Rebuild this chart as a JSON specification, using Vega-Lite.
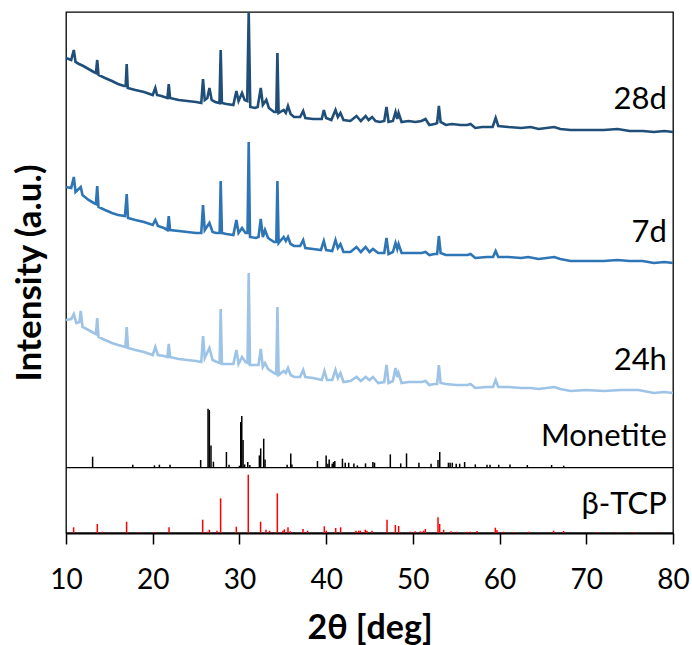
{
"$schema": "https://vega.github.io/schema/vega-lite/v6.json",
"width": 607, "height": 521,
"autosize": {"type": "none"},
"padding": {"left": 66, "top": 12, "right": 19, "bottom": 112},
"config": {"view": {"stroke": "black", "strokeWidth": 1.3}, "font": "Lato"},
"datasets": {
"d28": [
{"t":10.0,"v":475},{"t":10.6,"v":473},{"t":10.9,"v":483},{"t":11.1,"v":471},{"t":11.5,"v":469},{"t":12.0,"v":467},{"t":12.6,"v":464},{"t":13.2,"v":461},{"t":13.45,"v":460},{"t":13.6,"v":473},{"t":13.75,"v":458},{"t":14.5,"v":455},{"t":15.3,"v":452},{"t":16.0,"v":449},{"t":16.7,"v":447},{"t":16.88,"v":447},{"t":17.0,"v":469},{"t":17.12,"v":445},{"t":18.0,"v":443},{"t":19.0,"v":441},{"t":20.0,"v":438},{"t":20.3,"v":445},{"t":20.5,"v":438},{"t":21.0,"v":437},{"t":21.7,"v":435},{"t":21.85,"v":449},{"t":22.0,"v":435},{"t":23.0,"v":433},{"t":24.0,"v":432},{"t":25.0,"v":431},{"t":25.6,"v":430},{"t":25.8,"v":454},{"t":26.0,"v":433},{"t":26.3,"v":435},{"t":26.54,"v":445},{"t":26.8,"v":433},{"t":27.2,"v":431},{"t":27.7,"v":430},{"t":27.84,"v":483},{"t":27.98,"v":430},{"t":28.5,"v":429},{"t":29.3,"v":428},{"t":29.65,"v":442},{"t":29.9,"v":432},{"t":30.3,"v":440},{"t":30.6,"v":433},{"t":30.9,"v":432},{"t":31.07,"v":521},{"t":31.25,"v":426},{"t":31.8,"v":425},{"t":32.1,"v":426},{"t":32.46,"v":445},{"t":32.7,"v":428},{"t":33.1,"v":433},{"t":33.4,"v":425},{"t":34.0,"v":421},{"t":34.25,"v":421},{"t":34.38,"v":480},{"t":34.52,"v":420},{"t":35.1,"v":423},{"t":35.35,"v":420},{"t":35.6,"v":427},{"t":35.9,"v":419},{"t":36.3,"v":416},{"t":37.0,"v":416},{"t":37.35,"v":422},{"t":37.6,"v":415},{"t":38.5,"v":414},{"t":39.5,"v":414},{"t":39.73,"v":423},{"t":40.0,"v":415},{"t":40.6,"v":413},{"t":41.08,"v":423},{"t":41.35,"v":416},{"t":41.65,"v":420},{"t":42.0,"v":413},{"t":42.8,"v":412},{"t":43.5,"v":417},{"t":44.0,"v":412},{"t":44.55,"v":417},{"t":44.9,"v":413},{"t":45.3,"v":416},{"t":45.7,"v":412},{"t":46.2,"v":411},{"t":46.7,"v":412},{"t":46.96,"v":426},{"t":47.2,"v":411},{"t":47.7,"v":412},{"t":48.0,"v":421},{"t":48.2,"v":414},{"t":48.35,"v":420},{"t":48.7,"v":411},{"t":49.5,"v":412},{"t":50.3,"v":411},{"t":51.0,"v":412},{"t":51.46,"v":414},{"t":51.9,"v":408},{"t":52.5,"v":409},{"t":52.8,"v":410},{"t":53.0,"v":427},{"t":53.2,"v":411},{"t":53.8,"v":408},{"t":54.5,"v":409},{"t":55.5,"v":408},{"t":56.3,"v":408},{"t":56.65,"v":409},{"t":57.2,"v":405},{"t":58.0,"v":406},{"t":59.2,"v":406},{"t":59.55,"v":415},{"t":59.85,"v":407},{"t":61.0,"v":406},{"t":62.5,"v":405},{"t":63.6,"v":406},{"t":64.5,"v":404},{"t":66.3,"v":406},{"t":67.0,"v":404},{"t":68.2,"v":403},{"t":70.0,"v":403},{"t":72.0,"v":403},{"t":73.6,"v":404},{"t":75.0,"v":402},{"t":76.5,"v":402},{"t":77.8,"v":401},{"t":79.0,"v":402},{"t":80.0,"v":401}
],
"d7": [
{"t":10.0,"v":346},{"t":10.6,"v":345},{"t":10.9,"v":356},{"t":11.1,"v":341},{"t":11.7,"v":346},{"t":11.9,"v":338},{"t":12.6,"v":333},{"t":13.2,"v":330},{"t":13.45,"v":329},{"t":13.6,"v":347},{"t":13.75,"v":326},{"t":14.5,"v":323},{"t":15.3,"v":320},{"t":16.0,"v":318},{"t":16.8,"v":317},{"t":17.0,"v":339},{"t":17.15,"v":315},{"t":18.0,"v":313},{"t":19.0,"v":311},{"t":20.0,"v":308},{"t":20.3,"v":313},{"t":20.6,"v":307},{"t":21.3,"v":305},{"t":21.7,"v":303},{"t":21.85,"v":317},{"t":22.0,"v":303},{"t":23.0,"v":302},{"t":24.0,"v":301},{"t":25.0,"v":300},{"t":25.6,"v":300},{"t":25.8,"v":328},{"t":26.0,"v":303},{"t":26.54,"v":310},{"t":26.9,"v":301},{"t":27.3,"v":300},{"t":27.72,"v":300},{"t":27.84,"v":352},{"t":27.98,"v":300},{"t":28.5,"v":299},{"t":29.3,"v":298},{"t":29.65,"v":313},{"t":29.9,"v":300},{"t":30.3,"v":305},{"t":30.7,"v":300},{"t":30.93,"v":300},{"t":31.07,"v":391},{"t":31.22,"v":296},{"t":31.9,"v":295},{"t":32.2,"v":296},{"t":32.46,"v":314},{"t":32.7,"v":296},{"t":32.95,"v":303},{"t":33.3,"v":295},{"t":34.0,"v":291},{"t":34.25,"v":291},{"t":34.38,"v":352},{"t":34.52,"v":290},{"t":35.1,"v":296},{"t":35.35,"v":292},{"t":35.6,"v":296},{"t":35.9,"v":289},{"t":36.3,"v":287},{"t":37.0,"v":287},{"t":37.35,"v":293},{"t":37.6,"v":285},{"t":38.5,"v":284},{"t":39.4,"v":283},{"t":39.73,"v":292},{"t":40.0,"v":283},{"t":40.7,"v":282},{"t":41.08,"v":293},{"t":41.35,"v":285},{"t":41.65,"v":289},{"t":42.0,"v":281},{"t":42.8,"v":281},{"t":43.5,"v":286},{"t":44.0,"v":281},{"t":44.55,"v":286},{"t":45.0,"v":281},{"t":45.4,"v":284},{"t":46.0,"v":280},{"t":46.7,"v":280},{"t":46.96,"v":295},{"t":47.2,"v":279},{"t":47.7,"v":281},{"t":48.0,"v":290},{"t":48.2,"v":284},{"t":48.35,"v":289},{"t":48.7,"v":280},{"t":49.5,"v":280},{"t":50.3,"v":280},{"t":51.0,"v":280},{"t":51.46,"v":281},{"t":51.9,"v":278},{"t":52.5,"v":279},{"t":52.8,"v":279},{"t":53.0,"v":297},{"t":53.2,"v":280},{"t":53.8,"v":278},{"t":55.0,"v":278},{"t":56.3,"v":278},{"t":56.65,"v":279},{"t":57.2,"v":275},{"t":58.5,"v":276},{"t":59.25,"v":276},{"t":59.55,"v":282},{"t":59.85,"v":276},{"t":61.0,"v":276},{"t":62.5,"v":275},{"t":63.3,"v":276},{"t":64.5,"v":274},{"t":66.3,"v":276},{"t":67.0,"v":274},{"t":68.2,"v":272},{"t":70.0,"v":272},{"t":72.0,"v":272},{"t":73.6,"v":273},{"t":75.0,"v":272},{"t":76.5,"v":272},{"t":77.8,"v":270},{"t":79.0,"v":271},{"t":80.0,"v":270}
],
"d24": [
{"t":10.0,"v":213},{"t":10.6,"v":214},{"t":10.9,"v":219},{"t":11.2,"v":210},{"t":11.55,"v":211},{"t":11.7,"v":222},{"t":11.9,"v":206},{"t":12.6,"v":203},{"t":13.2,"v":200},{"t":13.45,"v":199},{"t":13.6,"v":215},{"t":13.75,"v":196},{"t":14.5,"v":193},{"t":15.3,"v":190},{"t":16.0,"v":188},{"t":16.85,"v":186},{"t":17.0,"v":206},{"t":17.15,"v":185},{"t":18.0,"v":183},{"t":19.0,"v":181},{"t":20.0,"v":178},{"t":20.3,"v":186},{"t":20.6,"v":178},{"t":21.3,"v":177},{"t":21.7,"v":176},{"t":21.85,"v":189},{"t":22.0,"v":176},{"t":23.0,"v":174},{"t":24.0,"v":173},{"t":25.0,"v":172},{"t":25.6,"v":171},{"t":25.8,"v":197},{"t":26.0,"v":175},{"t":26.54,"v":185},{"t":26.9,"v":173},{"t":27.4,"v":171},{"t":27.72,"v":170},{"t":27.84,"v":224},{"t":27.98,"v":169},{"t":28.5,"v":169},{"t":29.3,"v":169},{"t":29.65,"v":183},{"t":29.9,"v":169},{"t":30.3,"v":176},{"t":30.7,"v":171},{"t":30.93,"v":170},{"t":31.07,"v":260},{"t":31.22,"v":168},{"t":31.9,"v":168},{"t":32.2,"v":168},{"t":32.46,"v":184},{"t":32.7,"v":166},{"t":32.95,"v":170},{"t":33.3,"v":164},{"t":34.0,"v":160},{"t":34.25,"v":159},{"t":34.38,"v":226},{"t":34.52,"v":158},{"t":35.1,"v":162},{"t":35.35,"v":160},{"t":35.6,"v":165},{"t":35.9,"v":158},{"t":36.3,"v":156},{"t":37.0,"v":156},{"t":37.35,"v":163},{"t":37.6,"v":156},{"t":38.5,"v":155},{"t":39.5,"v":153},{"t":39.8,"v":162},{"t":40.1,"v":153},{"t":40.7,"v":153},{"t":41.08,"v":163},{"t":41.35,"v":155},{"t":41.65,"v":160},{"t":42.0,"v":151},{"t":42.8,"v":152},{"t":43.5,"v":156},{"t":44.0,"v":152},{"t":44.55,"v":156},{"t":45.0,"v":153},{"t":45.4,"v":156},{"t":46.0,"v":150},{"t":46.7,"v":151},{"t":46.96,"v":168},{"t":47.2,"v":150},{"t":47.7,"v":152},{"t":48.0,"v":165},{"t":48.2,"v":156},{"t":48.35,"v":160},{"t":48.7,"v":150},{"t":49.5,"v":151},{"t":50.3,"v":151},{"t":51.0,"v":151},{"t":51.46,"v":152},{"t":51.9,"v":148},{"t":52.5,"v":149},{"t":52.8,"v":149},{"t":53.0,"v":168},{"t":53.2,"v":150},{"t":53.8,"v":149},{"t":55.0,"v":148},{"t":56.3,"v":148},{"t":56.65,"v":149},{"t":57.2,"v":145},{"t":58.5,"v":146},{"t":59.25,"v":146},{"t":59.55,"v":153},{"t":59.85,"v":146},{"t":61.0,"v":146},{"t":62.5,"v":145},{"t":63.6,"v":145},{"t":64.5,"v":144},{"t":66.3,"v":146},{"t":67.0,"v":144},{"t":68.2,"v":142},{"t":70.0,"v":143},{"t":72.0,"v":142},{"t":74.0,"v":143},{"t":76.0,"v":143},{"t":77.8,"v":140},{"t":79.0,"v":141},{"t":80.0,"v":140}
],
"monetite": [
{"t":13.07,"v":76.3},{"t":17.7,"v":68.3},{"t":20.2,"v":67.6},{"t":20.77,"v":68.3},{"t":22.0,"v":68.3},{"t":25.53,"v":73},{"t":26.38,"v":124.3},{"t":26.53,"v":123},{"t":26.72,"v":87.6},{"t":27.0,"v":71.3},{"t":28.5,"v":81},{"t":28.8,"v":68.3},{"t":30.0,"v":67.3},{"t":30.15,"v":111},{"t":30.27,"v":117},{"t":30.42,"v":93},{"t":30.6,"v":68.6},{"t":30.96,"v":71},{"t":31.2,"v":68},{"t":32.3,"v":77.6},{"t":32.45,"v":84.6},{"t":32.8,"v":94.3},{"t":32.95,"v":73.6},{"t":35.5,"v":68.3},{"t":35.92,"v":79.6},{"t":36.05,"v":68.6},{"t":39.0,"v":72},{"t":40.0,"v":77.6},{"t":40.2,"v":69.3},{"t":40.35,"v":73.6},{"t":40.7,"v":69.3},{"t":40.85,"v":71},{"t":41.0,"v":72},{"t":41.88,"v":74.3},{"t":42.2,"v":70.3},{"t":42.6,"v":70.3},{"t":43.2,"v":69.6},{"t":43.6,"v":67.6},{"t":44.54,"v":69.6},{"t":45.39,"v":71},{"t":45.58,"v":70.3},{"t":47.4,"v":78.6},{"t":48.6,"v":69.6},{"t":49.27,"v":79.6},{"t":50.7,"v":70.3},{"t":52.1,"v":69.3},{"t":52.9,"v":73},{"t":53.1,"v":81},{"t":54.1,"v":70.3},{"t":54.3,"v":70.3},{"t":54.55,"v":70.3},{"t":55.0,"v":69.3},{"t":55.4,"v":69.3},{"t":55.97,"v":71},{"t":57.2,"v":68.6},{"t":58.55,"v":68.3},{"t":58.9,"v":68.3},{"t":59.9,"v":68.3},{"t":61.2,"v":68.6},{"t":63.2,"v":68},{"t":66.0,"v":68},{"t":67.4,"v":67.3}
],
"tcp": [
{"t":10.88,"v":5.7},{"t":13.61,"v":9},{"t":14.19,"v":1.3},{"t":16.99,"v":11.3},{"t":18.37,"v":1},{"t":20.3,"v":1},{"t":21.88,"v":5.7},{"t":25.76,"v":13.3},{"t":26.26,"v":1.3},{"t":26.53,"v":3.3},{"t":27.41,"v":2.3},{"t":27.83,"v":34.7},{"t":29.64,"v":6.3},{"t":31.02,"v":58.3},{"t":32.44,"v":11.3},{"t":33.06,"v":3.3},{"t":33.48,"v":2.3},{"t":34.37,"v":39.7},{"t":35.02,"v":2.3},{"t":35.18,"v":3.7},{"t":35.6,"v":5.7},{"t":35.87,"v":1.7},{"t":37.33,"v":4},{"t":37.86,"v":2.3},{"t":39.79,"v":6.7},{"t":40.02,"v":2.3},{"t":41.1,"v":5},{"t":41.67,"v":5.7},{"t":43.44,"v":2.3},{"t":43.75,"v":2.3},{"t":43.94,"v":2.3},{"t":44.52,"v":3.3},{"t":44.71,"v":2.3},{"t":45.29,"v":2.3},{"t":47.02,"v":13.3},{"t":47.98,"v":8},{"t":48.36,"v":7},{"t":49.7,"v":1.3},{"t":50.28,"v":1.7},{"t":50.86,"v":1.7},{"t":51.24,"v":2.3},{"t":51.44,"v":4},{"t":52.9,"v":15.7},{"t":53.09,"v":9},{"t":53.55,"v":3.3},{"t":54.4,"v":1.7},{"t":55.09,"v":1.3},{"t":56.25,"v":1.3},{"t":56.63,"v":1.3},{"t":57.4,"v":2},{"t":59.51,"v":5.3},{"t":59.7,"v":3},{"t":60.47,"v":1.3},{"t":61.62,"v":1},{"t":63.35,"v":1.3},{"t":66.23,"v":2.3},{"t":67.38,"v":2},{"t":71.24,"v":1},{"t":73.54,"v":0.7},{"t":75.46,"v":1},{"t":78.34,"v":0.7}
]
},
"layer": [
{"data": {"name": "tcp"}, "mark": {"type": "rule", "color": "#FF0000", "strokeWidth": 1.5},
 "encoding": {
  "x": {"field": "t", "type": "quantitative", "scale": {"domain": [10, 80], "nice": false, "zero": false},
   "axis": {"values": [10,20,30,40,50,60,70,80], "title": "2θ [deg]", "grid": false, "tickSize": 11, "tickWidth": 1.5, "tickColor": "black", "domainColor": "black", "domainWidth": 2, "labelFont": "Lato", "labelFontSize": 28, "labelColor": "black", "labelPadding": 22, "titleFont": "Lato", "titleFontSize": 34, "titleFontWeight": "bold", "titleColor": "black", "titlePadding": 17, "labelFlush": false}},
  "y": {"field": "v", "type": "quantitative", "scale": {"domain": [0, 521], "nice": false, "zero": true},
   "axis": {"title": "Intensity (a.u.)", "labels": false, "ticks": false, "domain": false, "grid": false, "titleFont": "Lato", "titleFontSize": 35, "titleFontWeight": "bold", "titleColor": "black", "titlePadding": 19}},
  "y2": {"datum": 0}
 }},
{"data": {"name": "monetite"}, "mark": {"type": "rule", "color": "black", "strokeWidth": 1.5},
 "encoding": {"x": {"field": "t", "type": "quantitative"}, "y": {"field": "v", "type": "quantitative"}, "y2": {"datum": 65.3}}},
{"data": {"values": [{}]}, "mark": {"type": "rule", "color": "black", "strokeWidth": 1.3},
 "encoding": {"y": {"datum": 65.3}}},
{"data": {"name": "d24"}, "mark": {"type": "line", "color": "#9DC3E6", "strokeWidth": 2.6},
 "encoding": {"x": {"field": "t", "type": "quantitative"}, "y": {"field": "v", "type": "quantitative"}}},
{"data": {"name": "d7"}, "mark": {"type": "line", "color": "#2E75B6", "strokeWidth": 2.6},
 "encoding": {"x": {"field": "t", "type": "quantitative"}, "y": {"field": "v", "type": "quantitative"}}},
{"data": {"name": "d28"}, "mark": {"type": "line", "color": "#1F4E79", "strokeWidth": 2.6},
 "encoding": {"x": {"field": "t", "type": "quantitative"}, "y": {"field": "v", "type": "quantitative"}}},
{"data": {"values": [{}]}, "mark": {"type": "text", "text": "28d", "align": "right", "baseline": "alphabetic", "font": "Lato", "fontSize": 31, "color": "black"},
 "encoding": {"x": {"datum": 79.3}, "y": {"datum": 424}}},
{"data": {"values": [{}]}, "mark": {"type": "text", "text": "7d", "align": "right", "baseline": "alphabetic", "font": "Lato", "fontSize": 31, "color": "black"},
 "encoding": {"x": {"datum": 79.3}, "y": {"datum": 291}}},
{"data": {"values": [{}]}, "mark": {"type": "text", "text": "24h", "align": "right", "baseline": "alphabetic", "font": "Lato", "fontSize": 31, "color": "black"},
 "encoding": {"x": {"datum": 79.3}, "y": {"datum": 163}}},
{"data": {"values": [{}]}, "mark": {"type": "text", "text": "Monetite", "align": "right", "baseline": "alphabetic", "font": "Lato", "fontSize": 31, "color": "black"},
 "encoding": {"x": {"datum": 79.3}, "y": {"datum": 87}}},
{"data": {"values": [{}]}, "mark": {"type": "text", "text": "β-TCP", "align": "right", "baseline": "alphabetic", "font": "Lato", "fontSize": 31, "color": "black"},
 "encoding": {"x": {"datum": 79.3}, "y": {"datum": 19}}}
]
}
